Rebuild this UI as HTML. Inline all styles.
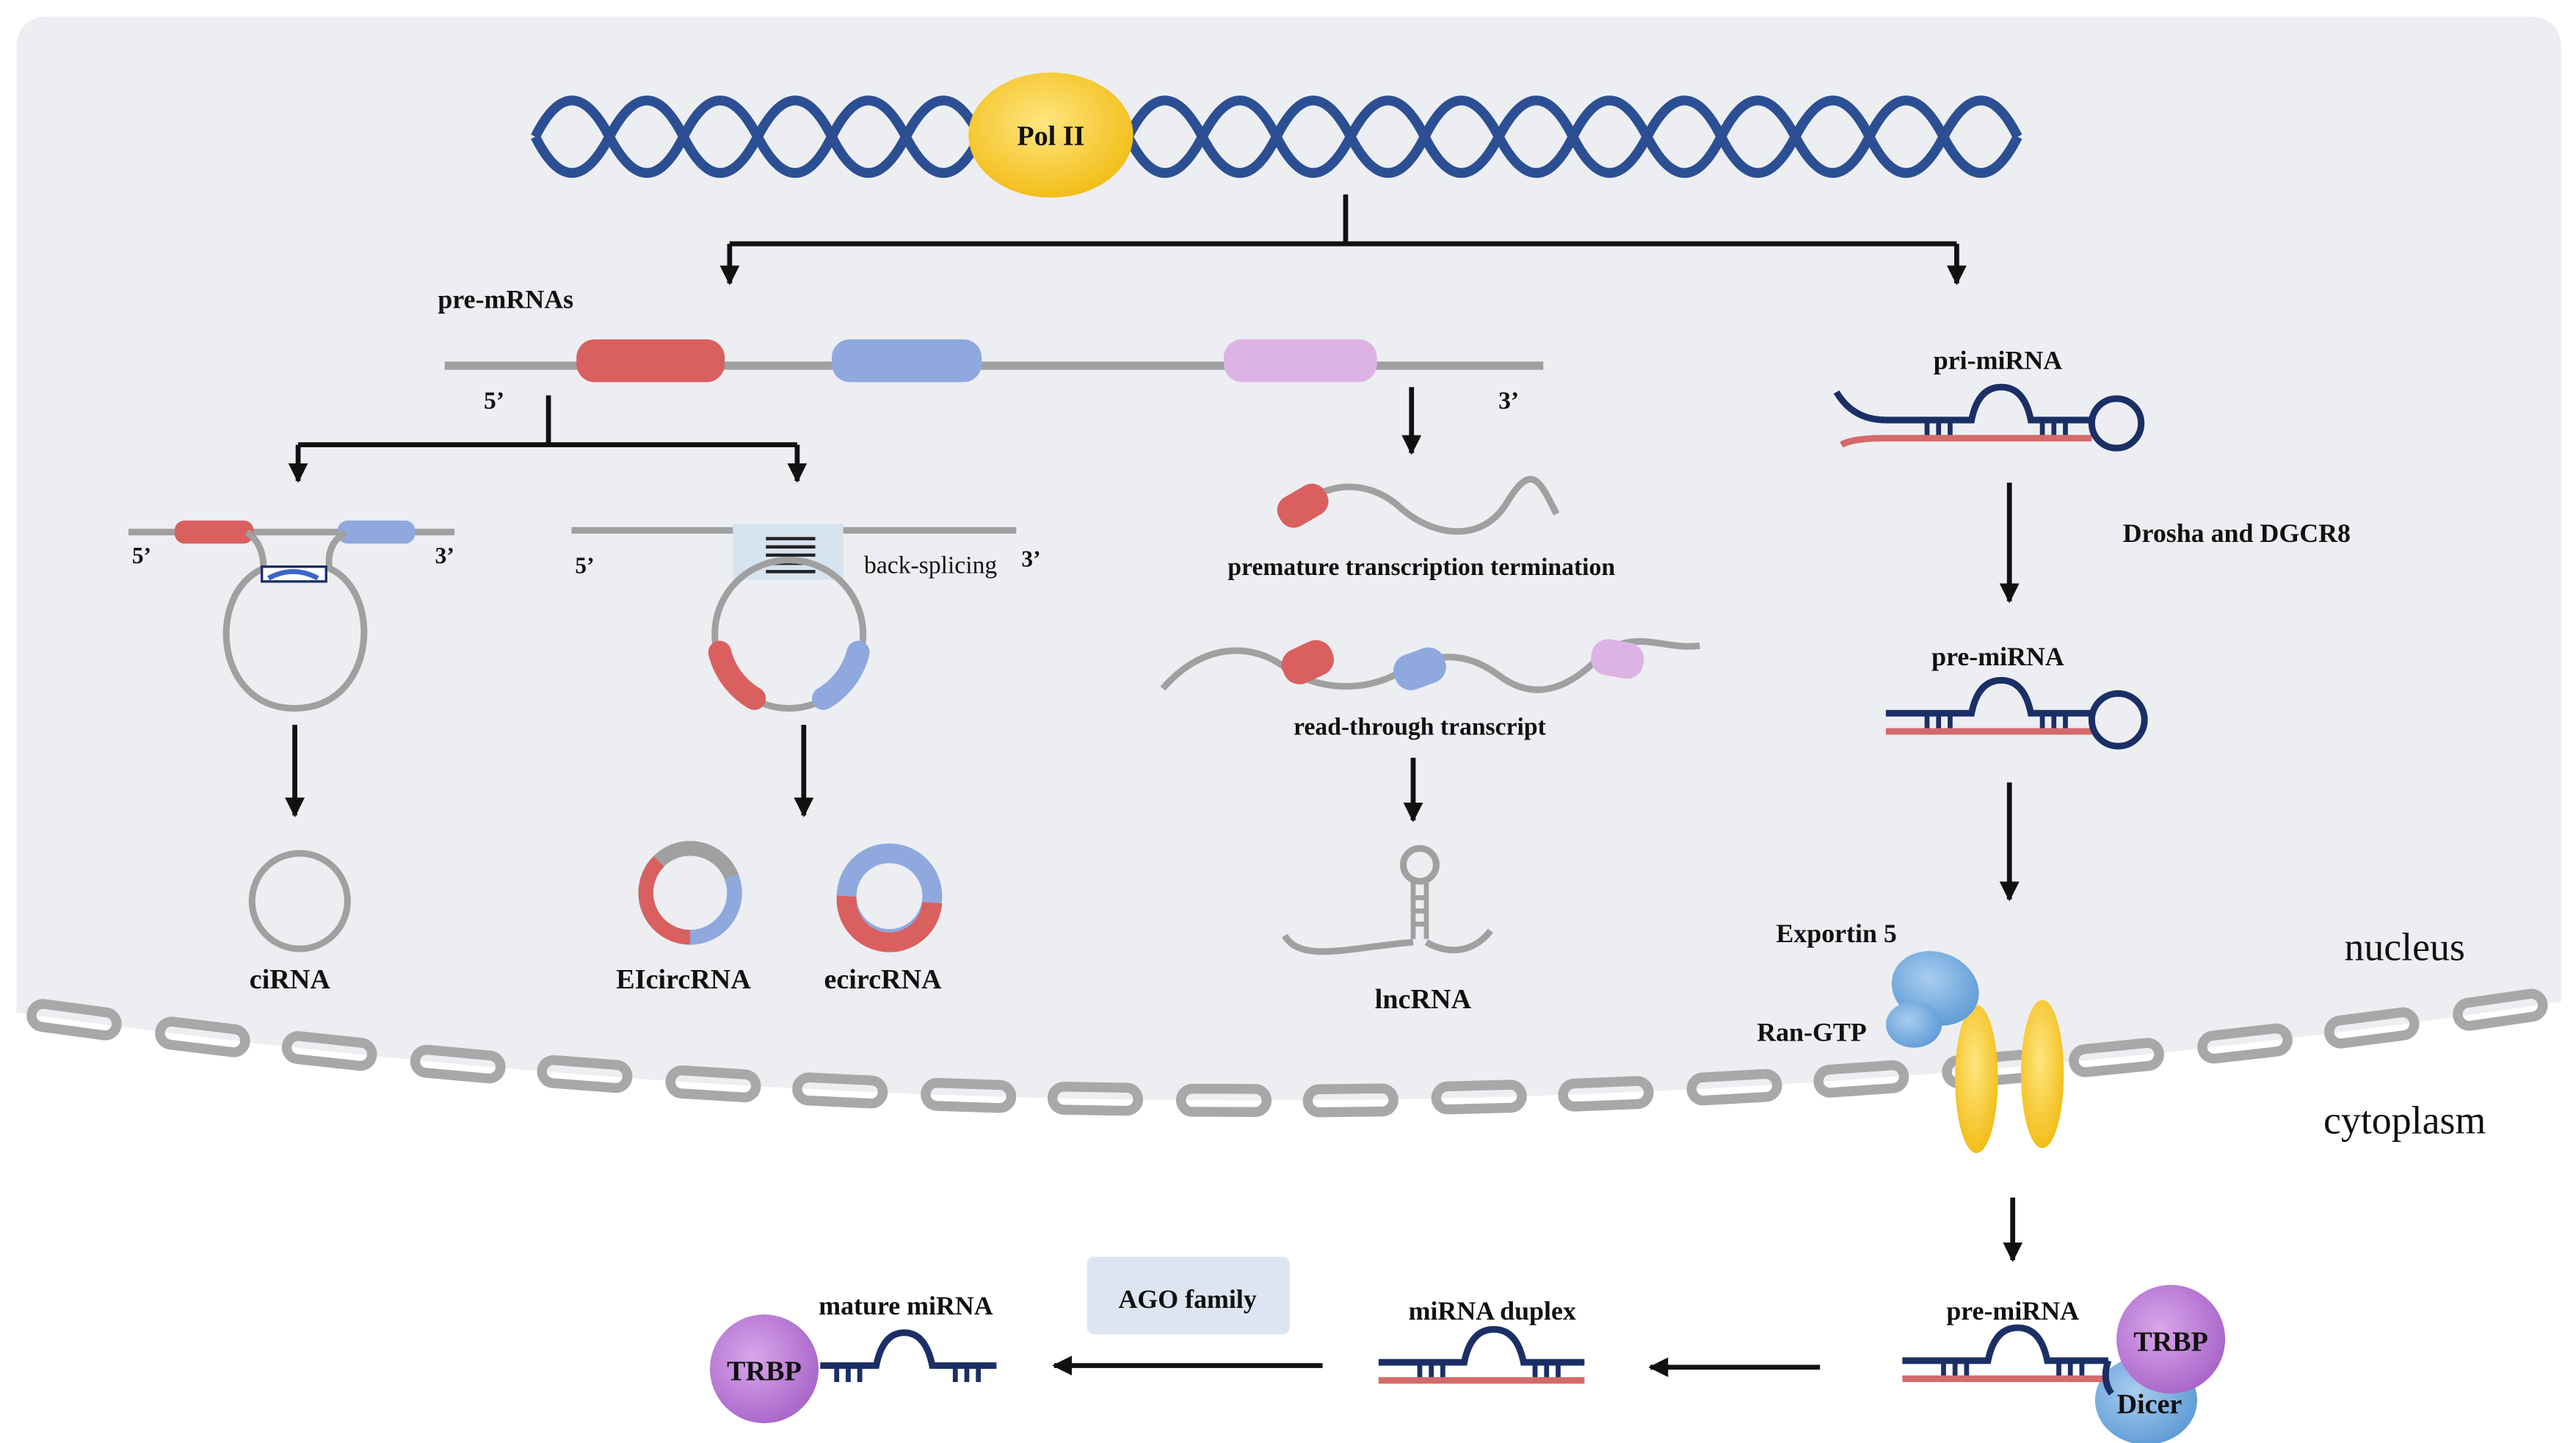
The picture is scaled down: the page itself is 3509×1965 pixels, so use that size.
<!DOCTYPE html>
<html><head><meta charset="utf-8"><style>
html,body{margin:0;padding:0;background:#fff;}
svg{display:block;}
text{font-family:"Liberation Serif",serif;font-weight:bold;fill:#111;text-anchor:middle;}
</style></head><body>
<svg width="3509" height="1965" viewBox="0 0 1564 876" preserveAspectRatio="none" xmlns="http://www.w3.org/2000/svg">
<defs>
<radialGradient id="yg" cx="45%" cy="40%" r="60%"><stop offset="0" stop-color="#ffe680"/><stop offset="1" stop-color="#f2be1a"/></radialGradient>
<radialGradient id="bg" cx="40%" cy="40%" r="65%"><stop offset="0" stop-color="#a9cdef"/><stop offset="1" stop-color="#5e9bd6"/></radialGradient>
<radialGradient id="pg" cx="40%" cy="40%" r="65%"><stop offset="0" stop-color="#d9a6ea"/><stop offset="1" stop-color="#a865c9"/></radialGradient>
<marker id="ah" viewBox="0 0 10 10" refX="9" refY="5" markerWidth="4" markerHeight="4" orient="auto"><path d="M0,0L10,5L0,10z" fill="#111"/></marker>
<g id="hp">
<path d="M0,0 H52 q4,-20 18,-20 q14,0 18,20 H125" fill="none" stroke="#1b2f66" stroke-width="4"/>
<path d="M25,0v10M32,0v10M39,0v10M95,0v10M102,0v10M109,0v10" stroke="#1b2f66" stroke-width="3"/>
<path d="M0,11 H125" stroke="#d46a6a" stroke-width="4"/>
</g>
</defs>
<path d="M10,30 Q10,10 30,10 H1535 Q1555,10 1555,30 V608 Q782.5,724.7 10,614.6 Z" fill="#eceef2"/>
<g fill="none" stroke="#a8a8a8" stroke-width="6">
<rect x="-26" y="-7" width="52" height="14" rx="7" transform="translate(45,619) rotate(7.7)"/>
<rect x="-26" y="-7" width="52" height="14" rx="7" transform="translate(123,629.5) rotate(6.9)"/>
<rect x="-26" y="-7" width="52" height="14" rx="7" transform="translate(200,638) rotate(6.1)"/>
<rect x="-26" y="-7" width="52" height="14" rx="7" transform="translate(278,646) rotate(5.2)"/>
<rect x="-26" y="-7" width="52" height="14" rx="7" transform="translate(355,652) rotate(4.4)"/>
<rect x="-26" y="-7" width="52" height="14" rx="7" transform="translate(433,658) rotate(3.6)"/>
<rect x="-26" y="-7" width="52" height="14" rx="7" transform="translate(510,662) rotate(2.7)"/>
<rect x="-26" y="-7" width="52" height="14" rx="7" transform="translate(588,665) rotate(1.9)"/>
<rect x="-26" y="-7" width="52" height="14" rx="7" transform="translate(665,667) rotate(1)"/>
<rect x="-26" y="-7" width="52" height="14" rx="7" transform="translate(743,668) rotate(0.2)"/>
<rect x="-26" y="-7" width="52" height="14" rx="7" transform="translate(820,668) rotate(-0.7)"/>
<rect x="-26" y="-7" width="52" height="14" rx="7" transform="translate(898,666) rotate(-1.5)"/>
<rect x="-26" y="-7" width="52" height="14" rx="7" transform="translate(975,664) rotate(-2.3)"/>
<rect x="-26" y="-7" width="52" height="14" rx="7" transform="translate(1053,660) rotate(-3.2)"/>
<rect x="-26" y="-7" width="52" height="14" rx="7" transform="translate(1130,655) rotate(-4)"/>
<rect x="-26" y="-7" width="52" height="14" rx="7" transform="translate(1208,649) rotate(-4.9)"/>
<rect x="-26" y="-7" width="52" height="14" rx="7" transform="translate(1285,642) rotate(-5.7)"/>
<rect x="-26" y="-7" width="52" height="14" rx="7" transform="translate(1363,633.5) rotate(-6.5)"/>
<rect x="-26" y="-7" width="52" height="14" rx="7" transform="translate(1440,624) rotate(-7.4)"/>
<rect x="-26" y="-7" width="52" height="14" rx="7" transform="translate(1518,613) rotate(-8.2)"/>
</g>
<g fill="none" stroke="#2c4f94" stroke-width="6">
<path d="M325,83 q22,-44 45,0 t45,0 t45,0 t45,0 t45,0 t45,0 t45,0 t45,0 t45,0 t45,0 t45,0 t45,0 t45,0 t45,0 t45,0 t45,0 t45,0 t45,0 t45,0 t45,0"/>
<path d="M325,83 q22,44 45,0 t45,0 t45,0 t45,0 t45,0 t45,0 t45,0 t45,0 t45,0 t45,0 t45,0 t45,0 t45,0 t45,0 t45,0 t45,0 t45,0 t45,0 t45,0 t45,0"/>
</g>
<ellipse cx="638" cy="82" rx="50" ry="38" fill="url(#yg)"/>
<text x="638" y="88" font-size="17">Pol II</text>
<g stroke="#111" stroke-width="3" fill="none">
<path d="M817,118V148M443,148H1188"/>
<path d="M443,148V172" marker-end="url(#ah)"/>
<path d="M1188,148V172" marker-end="url(#ah)"/>
<path d="M333,240V270M181,270H484"/>
<path d="M181,270V292" marker-end="url(#ah)"/>
<path d="M484,270V292" marker-end="url(#ah)"/>
<path d="M179,440V495" marker-end="url(#ah)"/>
<path d="M488,440V495" marker-end="url(#ah)"/>
<path d="M857,235V275" marker-end="url(#ah)"/>
<path d="M858,460V498" marker-end="url(#ah)"/>
<path d="M1220,293V365" marker-end="url(#ah)"/>
<path d="M1220,475V546" marker-end="url(#ah)"/>
<path d="M1222,727V765" marker-end="url(#ah)"/>
<path d="M1105,830H1002" marker-end="url(#ah)"/>
<path d="M803,829H640" marker-end="url(#ah)"/>
</g>
<text x="307" y="187" font-size="16">pre-mRNAs</text>
<path d="M270,222H937" stroke="#a0a0a0" stroke-width="5"/>
<rect x="350" y="206" width="90" height="26" rx="11" fill="#d9605f"/>
<rect x="505" y="206" width="91" height="26" rx="11" fill="#8fa9de"/>
<rect x="743" y="206" width="93" height="26" rx="11" fill="#ddb3e6"/>
<text x="300" y="248" font-size="15">5’</text>
<text x="916" y="248" font-size="15">3’</text>
<path d="M78,323H276" stroke="#a0a0a0" stroke-width="4"/>
<rect x="106" y="316" width="48" height="14" rx="6" fill="#d9605f"/>
<rect x="205" y="316" width="47" height="14" rx="6" fill="#8fa9de"/>
<path d="M150,323 Q160,330 160,345 C125,360 130,430 179,430 C228,430 233,360 200,345 Q198,330 210,323" fill="none" stroke="#a0a0a0" stroke-width="4"/>
<rect x="159" y="344" width="39" height="9" fill="#fff" stroke="#1b2f66" stroke-width="1.5"/>
<path d="M163,351 q15,-8 30,0" stroke="#3a66c8" stroke-width="3" fill="none"/>
<text x="86" y="342" font-size="14">5’</text>
<text x="270" y="342" font-size="14">3’</text>
<circle cx="182" cy="547" r="29" fill="none" stroke="#a0a0a0" stroke-width="4"/>
<text x="176" y="600" font-size="17">ciRNA</text>
<path d="M347,322H617" stroke="#a0a0a0" stroke-width="4"/>
<rect x="445" y="318" width="67" height="34" fill="#d8e3f0"/>
<path d="M465,327H495M465,332H495M465,337H495M465,342H495M465,347H495" stroke="#222" stroke-width="2"/>
<circle cx="479" cy="385" r="45" fill="none" stroke="#a0a0a0" stroke-width="4"/>
<path d="M437,396 A45,45 0 0 0 458,424" fill="none" stroke="#d9605f" stroke-width="14" stroke-linecap="round"/>
<path d="M521,396 A45,45 0 0 1 500,424" fill="none" stroke="#8fa9de" stroke-width="14" stroke-linecap="round"/>
<text x="355" y="348" font-size="14">5’</text>
<text x="565" y="348" font-size="15" style="font-weight:normal">back-splicing</text>
<text x="626" y="344" font-size="14">3’</text>
<circle cx="419" cy="542" r="27" fill="none" stroke="#a0a0a0" stroke-width="9"/>
<path d="M400,523 A27,27 0 0 0 419,569" fill="none" stroke="#d9605f" stroke-width="9"/>
<path d="M419,569 A27,27 0 0 0 444,532" fill="none" stroke="#8fa9de" stroke-width="9"/>
<circle cx="540" cy="544" r="26" fill="none" stroke="#8fa9de" stroke-width="12"/>
<path d="M514,544 A26,26 0 0 0 566,548" fill="none" stroke="#d9605f" stroke-width="12"/>
<text x="415" y="600" font-size="17">EIcircRNA</text>
<text x="536" y="600" font-size="17">ecircRNA</text>
<path d="M780,318 C800,290 830,290 850,308 S900,330 915,305 S935,292 945,312" fill="none" stroke="#a0a0a0" stroke-width="4"/>
<rect x="-16" y="-10" width="32" height="20" rx="9" fill="#d9605f" transform="translate(791,307) rotate(-30)"/>
<text x="863" y="349" font-size="15">premature transcription termination</text>
<path d="M706,418 C730,390 760,390 780,405 S830,420 850,408 S890,395 910,410 S950,420 970,400 S1010,395 1032,392" fill="none" stroke="#a0a0a0" stroke-width="4"/>
<rect x="-16" y="-11" width="32" height="22" rx="10" fill="#d9605f" transform="translate(794,402) rotate(-25)"/>
<rect x="-16" y="-11" width="32" height="22" rx="10" fill="#8fa9de" transform="translate(862,406) rotate(-20)"/>
<rect x="-16" y="-11" width="32" height="22" rx="10" fill="#ddb3e6" transform="translate(982,400) rotate(10)"/>
<text x="862" y="446" font-size="15">read-through transcript</text>
<circle cx="862" cy="525" r="10" fill="none" stroke="#a0a0a0" stroke-width="4"/>
<path d="M858,534V570M866,534V570M858,545h8M858,553h8M858,561h8" stroke="#a0a0a0" stroke-width="3" fill="none"/>
<path d="M780,568 C790,585 820,575 858,572 M866,572 C880,580 895,578 905,565" fill="none" stroke="#a0a0a0" stroke-width="4"/>
<text x="864" y="612" font-size="17">lncRNA</text>
<text x="1213" y="224" font-size="16">pri-miRNA</text>
<path d="M1115,238 Q1125,255 1145,255" fill="none" stroke="#1b2f66" stroke-width="4"/>
<use href="#hp" x="1145" y="255"/>
<path d="M1118,270 Q1125,266 1145,266" fill="none" stroke="#d46a6a" stroke-width="4"/>
<circle cx="1285" cy="257" r="15" fill="none" stroke="#1b2f66" stroke-width="4"/>
<text x="1358" y="329" font-size="16">Drosha and DGCR8</text>
<text x="1213" y="404" font-size="16">pre-miRNA</text>
<use href="#hp" x="1145" y="433"/>
<circle cx="1286" cy="437" r="16" fill="none" stroke="#1b2f66" stroke-width="4"/>
<text x="1115" y="572" font-size="16">Exportin 5</text>
<text x="1100" y="632" font-size="16">Ran-GTP</text>
<ellipse cx="1200" cy="655" rx="13" ry="45" fill="url(#yg)"/>
<ellipse cx="1240" cy="652" rx="13" ry="45" fill="url(#yg)"/>
<ellipse cx="1175" cy="600" rx="27" ry="22" fill="url(#bg)" transform="rotate(20 1175 600)"/>
<ellipse cx="1162" cy="622" rx="17" ry="14" fill="url(#bg)"/>
<text x="1460" y="583" font-size="24" style="font-weight:normal">nucleus</text>
<text x="1460" y="688" font-size="24" style="font-weight:normal">cytoplasm</text>
<text x="1222" y="801" font-size="16">pre-miRNA</text>
<ellipse cx="1303" cy="850" rx="31" ry="27" fill="url(#bg)"/>
<use href="#hp" x="1155" y="826"/>
<path d="M1280,826 Q1276,838 1282,846" fill="none" stroke="#1b2f66" stroke-width="4"/>
<circle cx="1318" cy="813" r="33" fill="url(#pg)"/>
<text x="1318" y="820" font-size="17">TRBP</text>
<text x="1305" y="858" font-size="17">Dicer</text>
<text x="906" y="801" font-size="16">miRNA duplex</text>
<use href="#hp" x="837" y="827"/>
<rect x="660" y="763" width="123" height="47" rx="4" fill="#dde5f2"/>
<text x="721" y="794" font-size="16">AGO family</text>
<text x="550" y="798" font-size="16">mature miRNA</text>
<circle cx="464" cy="831" r="33" fill="url(#pg)"/>
<text x="464" y="838" font-size="17">TRBP</text>
<path d="M498,829 H532 q4,-20 17,-20 q13,0 17,20 H605" fill="none" stroke="#1b2f66" stroke-width="4"/>
<path d="M508,829v10M515,829v10M522,829v10M580,829v10M587,829v10M594,829v10" stroke="#1b2f66" stroke-width="3"/>
</svg>
</body></html>
